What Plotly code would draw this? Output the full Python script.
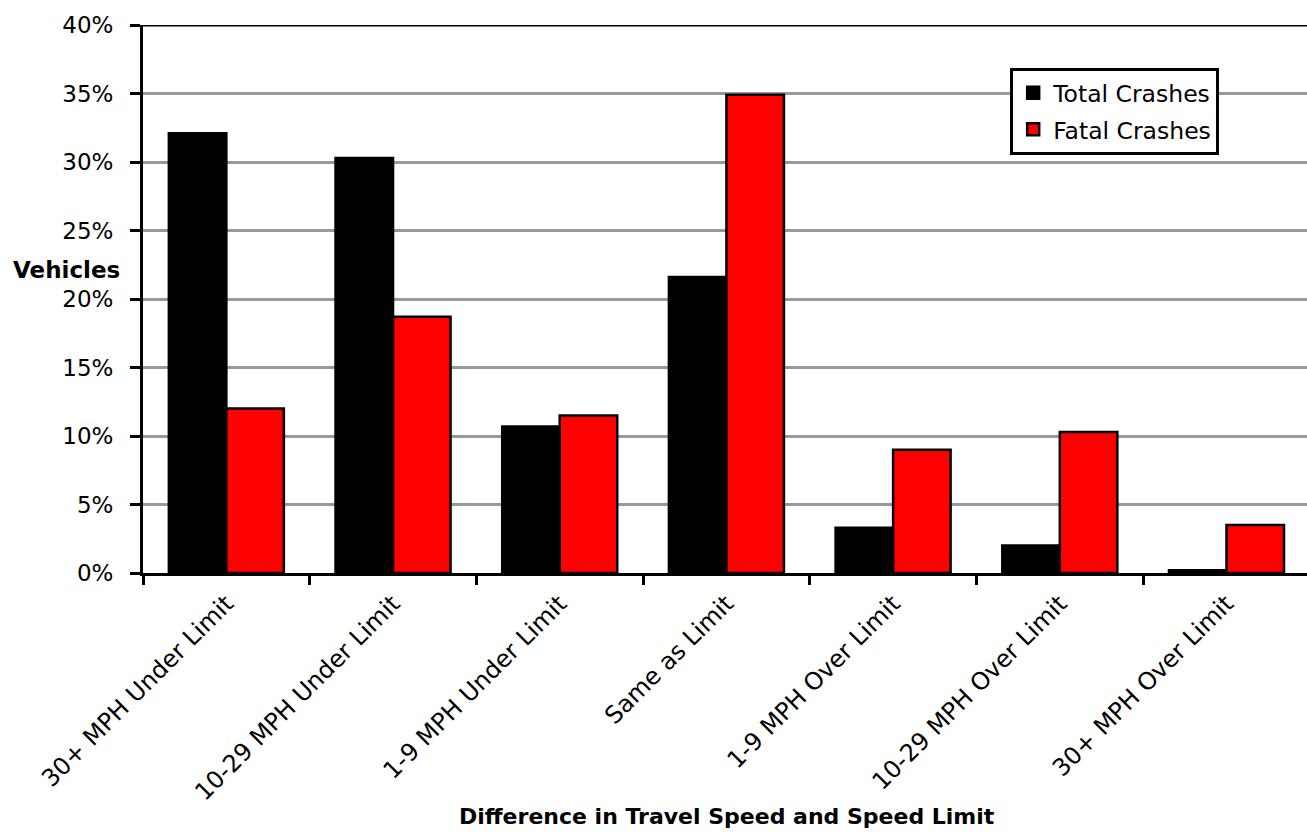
import plotly.graph_objects as go

# Speed-difference categories and share of vehicles (percent)
categories = [
    "30+ MPH Under Limit",
    "10-29 MPH Under Limit",
    "1-9 MPH Under Limit",
    "Same as Limit",
    "1-9 MPH Over Limit",
    "10-29 MPH Over Limit",
    "30+ MPH Over Limit",
]
total_crashes = [32.1, 30.3, 10.7, 21.6, 3.3, 2.0, 0.2]
fatal_crashes = [12.0, 18.7, 11.5, 34.9, 9.0, 10.3, 3.5]
y_ticks = [0, 5, 10, 15, 20, 25, 30, 35, 40]
y_tick_labels = [f"{v}%" for v in y_ticks]

FONT = "DejaVu Sans, Verdana, sans-serif"

fig = go.Figure()
fig.add_trace(go.Bar(
    x=categories, y=total_crashes, name="Total Crashes",
    marker=dict(color="#000000", line=dict(color="#000000", width=2.5)),
    legendgroup="a",
))
fig.add_trace(go.Bar(
    x=categories, y=fatal_crashes, name="Fatal Crashes",
    marker=dict(color="#ff0000", line=dict(color="#000000", width=2.5)),
    legendgroup="b",
))

fig.update_layout(
    width=1307, height=832,
    margin=dict(l=143, r=0, t=25, b=259),
    paper_bgcolor="white", plot_bgcolor="white",
    font=dict(family=FONT, color="black", size=23),
    barmode="group", bargap=0.31, bargroupgap=0,
    showlegend=True,
    legend=dict(
        x=0.745, y=0.9215, xanchor="left", yanchor="top",
        bordercolor="black", borderwidth=3, bgcolor="white",
        font=dict(size=23.5, family=FONT), tracegroupgap=3,
    ),
    xaxis=dict(
        range=[-0.5, 6.483], tickangle=-45, tickson="boundaries",
        ticks="outside", ticklen=9, tickwidth=3, tickcolor="black",
        ticklabelstandoff=4,
        showline=True, linecolor="black", linewidth=3,
        showgrid=False, tickfont=dict(size=24, family=FONT),
    ),
    yaxis=dict(
        range=[0, 40], tickvals=y_ticks, ticktext=y_tick_labels,
        ticks="outside", ticklen=10, tickwidth=3, tickcolor="black",
        ticklabelstandoff=12,
        showline=True, linecolor="black", linewidth=3,
        showgrid=True, gridcolor="#999999", gridwidth=3,
        zeroline=False, tickfont=dict(size=23, family=FONT),
    ),
    annotations=[
        dict(text="<b>Vehicles</b>", xref="paper", yref="paper",
             x=-0.066, y=0.553, xanchor="center", yanchor="middle",
             showarrow=False, font=dict(size=23, family=FONT)),
        dict(text="<b>Difference in Travel Speed and Speed Limit</b>",
             xref="paper", yref="paper", x=0.502, y=-0.445,
             xanchor="center", yanchor="middle", showarrow=False,
             font=dict(size=22, family=FONT)),
    ],
    shapes=[
        dict(type="line", xref="paper", yref="y", x0=0, x1=1, y0=40, y1=40,
             line=dict(color="black", width=3), layer="above"),
    ],
)

fig.write_html("out.html")
